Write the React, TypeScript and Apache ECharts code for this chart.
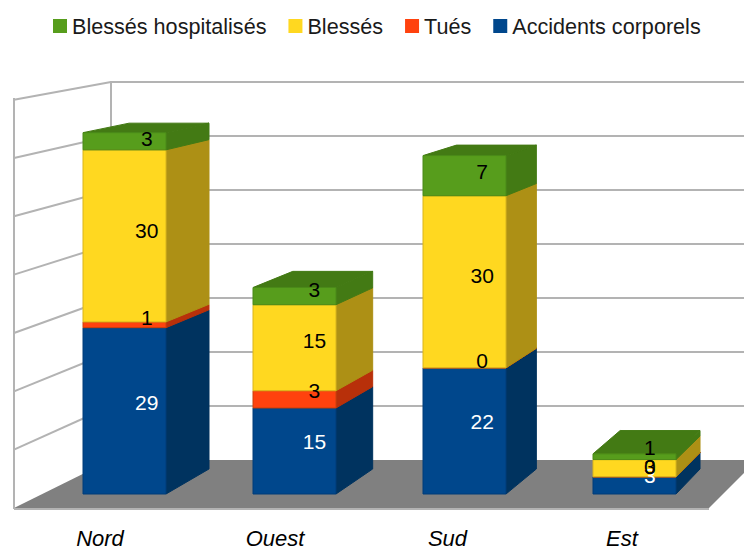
import React, { useEffect, useRef } from "react";
import * as echarts from "echarts";

const categories = ["Nord", "Ouest", "Sud", "Est"];
const accidents = [29, 15, 22, 3];
const tues = [1, 3, 0, 0];
const blesses = [30, 15, 30, 3];
const hospitalises = [3, 3, 7, 1];
const ticks = [0, 10, 20, 30, 40, 50, 60, 70];
const labelShift = [49, 39, 34, 25];

const FONT = '"Liberation Sans", Arial, sans-serif';

const stacks = [
  { name: "Accidents corporels", values: accidents, front: "#00478c", side: "#00335f", top: "#00335f", edge: "#003d78", label: "#ffffff", nudge: [0, 0, 0, 0] },
  { name: "Tués", values: tues, front: "#ff420e", side: "#b8300a", top: "#b8300a", edge: "#c8400c", label: "#000000", nudge: [0, 0, 0, 0] },
  { name: "Blessés", values: blesses, front: "#ffd820", side: "#ad9015", top: "#ad9015", edge: "#d9b41c", label: "#000000", nudge: [0, 0, 0, 8] },
  { name: "Blessés hospitalisés", values: hospitalises, front: "#579d1c", side: "#437a14", top: "#437a14", edge: "#4a8a18", label: "#000000", nudge: [0, 0, 0, 0] },
];

// Perspective of the 3D view: how far the back of a bar lies from its front.
const depthX = (x: number) => 0.0372 * (1322 - x);
const depthY = (y: number) => 0.043 * (y + 88);

function makeStackSeries(stackIndex: number) {
  const s = stacks[stackIndex];
  return {
    type: "custom",
    name: s.name,
    silent: true,
    itemStyle: { color: s.front },
    z: 3,
    data: s.values.map((v, i) => [i, v]),
    encode: { x: 0, y: 1 },
    renderItem: (_params: any, api: any) => {
      const i = api.value(0);
      const v = api.value(1);
      let base = 0;
      for (let k = 0; k < stackIndex; k++) base += stacks[k].values[i];
      const p0 = api.coord([i, base]);
      const p1 = api.coord([i, base + v]);
      const w = (api.size([1, 0])[0] * 83) / 170;
      const xl = p0[0] - w / 2;
      const xr = p0[0] + w / 2;
      const yb = p0[1];
      const yt = p1[1];
      const dxl = depthX(xl);
      const dxr = depthX(xr);
      const poly = (points: number[][], fill: string, stroke: string) => ({
        type: "polygon",
        shape: { points },
        style: { fill, stroke, lineWidth: 1, lineJoin: "round" },
      });
      const children: any[] = [];
      children.push(
        poly([[xr, yb], [xr + dxr, yb - depthY(yb)], [xr + dxr, yt - depthY(yt)], [xr, yt]], s.side, s.side),
        poly([[xl, yt], [xr, yt], [xr + dxr, yt - depthY(yt)], [xl + dxl, yt - depthY(yt)]], s.top, s.top),
        poly([[xl, yb], [xr, yb], [xr, yt], [xl, yt]], s.front, s.edge)
      );
      const ym = (yb + yt) / 2;
      children.push({
        type: "text",
        z2: 100,
        style: {
          text: String(v),
          x: p0[0] + depthX(p0[0]) / 2 + (p0[0] - 124.5) * 0.005,
          y: ym - depthY(ym) / 2 + 2 + s.nudge[i],
          align: "center",
          verticalAlign: "middle",
          font: `21px ${FONT}`,
          fill: s.label,
        },
      });
      return { type: "group", children };
    },
  };
}

// Walls and floor: each tick of the value axis becomes a line on both walls.
const wallSeries = {
  type: "custom",
  name: "walls",
  silent: true,
  z: 1,
  data: ticks.map((t) => [0, t]),
  encode: { x: 0, y: 1 },
  renderItem: (_params: any, api: any) => {
    const v = api.value(1);
    const zero = api.coord([0, 0])[1];
    const fy = api.coord([0, v])[1];
    const h = zero - fy;
    const backY = 460 - h * 0.9416;
    const leftY = 508 - h * 1.017;
    const lineStyle = { stroke: "#b3b3b3", lineWidth: 2, fill: "none" };
    const children: any[] = [];
    if (v === 0) {
      children.push({
        type: "polygon",
        shape: { points: [[14, 508], [709, 508], [757, 460], [111, 460]] },
        style: { fill: "#808080", stroke: "none" },
      });
      children.push({ type: "line", shape: { x1: 14, y1: 509, x2: 709, y2: 509 }, style: lineStyle });
      children.push({ type: "line", shape: { x1: 14, y1: 98, x2: 14, y2: 509 }, style: lineStyle });
      children.push({ type: "line", shape: { x1: 111, y1: 81, x2: 111, y2: 460 }, style: lineStyle });
    } else {
      children.push({ type: "line", shape: { x1: 111, y1: backY, x2: 744, y2: backY }, style: lineStyle });
      children.push({ type: "line", shape: { x1: 14, y1: leftY, x2: 111, y2: backY }, style: lineStyle });
    }
    return { type: "group", children };
  },
};

export default function App() {
  const ref = useRef<HTMLDivElement>(null);
  useEffect(() => {
    if (!ref.current) return;
    const chart = echarts.init(ref.current, null, { renderer: "svg" });
    chart.setOption({
      animation: false,
      backgroundColor: "#ffffff",
      legend: {
        left: 48,
        top: 10,
        icon: "rect",
        itemWidth: 14,
        itemHeight: 14,
        itemGap: 22,
        data: ["Blessés hospitalisés", "Blessés", "Tués", "Accidents corporels"],
        textStyle: { fontFamily: FONT, fontSize: 21.6, color: "#1a1a1a" },
      },
      grid: { left: 39.5, right: 24.5, top: 92.5, bottom: 54 },
      xAxis: {
        type: "category",
        data: categories.map((c, i) => ({
          value: c,
          textStyle: { padding: [0, labelShift[i], 0, 0] },
        })),
        axisLine: { show: false },
        axisTick: { show: false },
        splitLine: { show: false },
        axisLabel: {
          margin: 33,
          fontFamily: FONT,
          fontSize: 22,
          fontStyle: "italic",
          color: "#000000",
        },
      },
      yAxis: { type: "value", min: 0, max: 70, interval: 10, show: false },
      series: [wallSeries, ...stacks.map((_, i) => makeStackSeries(i))],
    });
    return () => chart.dispose();
  }, []);
  return <div ref={ref} style={{ position: "fixed", left: 0, top: 0, width: 744, height: 549 }} />;
}
